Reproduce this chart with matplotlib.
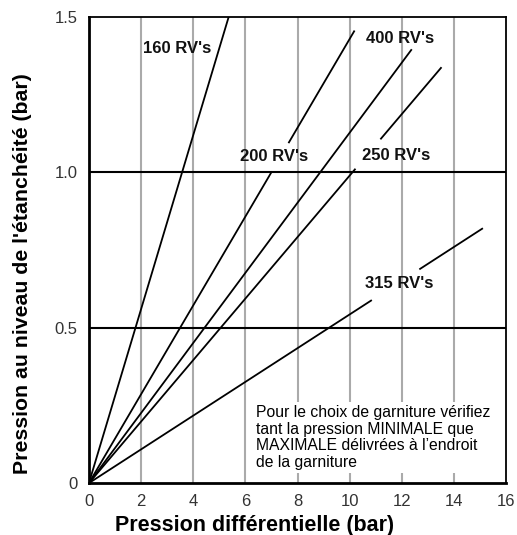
import matplotlib.pyplot as plt
import numpy as np

plt.rcParams['font.family'] = ['Liberation Sans', 'DejaVu Sans']

# pump speeds and slope of seal pressure vs differential pressure
labels = ["160 RV's", "200 RV's", "400 RV's", "250 RV's", "315 RV's"]
slopes = [0.28, 0.143, 0.1128, 0.099, 0.0543]
# line segments (x ranges); a gap leaves room for the label
segments = [
    [(0, 5.36)],
    [(0, 7.0), (7.67, 10.17)],
    [(0, 12.36)],
    [(0, 10.2), (11.2, 13.5)],
    [(0, 10.82), (12.7, 15.08)],
]
label_pos = [(3.4, 1.40), (7.1, 1.05), (11.92, 1.43), (11.8, 1.055), (11.9, 0.644)]

xticks = [0, 2, 4, 6, 8, 10, 12, 14, 16]
yticks = [0, 0.5, 1.0, 1.5]
ytick_labels = ['0', '0.5', '1.0', '1.5']

note = ("Pour le choix de garniture vérifiez\n"
        "tant la pression MINIMALE que\n"
        "MAXIMALE délivrées à l’endroit\n"
        "de la garniture")

fig = plt.figure(figsize=(5.17, 5.35), dpi=100)
ax = fig.add_axes([0.172, 0.097, 0.807, 0.871])
ax.set_xlim(0, 16)
ax.set_ylim(0, 1.5)

for x in xticks[1:-1]:
    ax.axvline(x, color='#aaaaaa', lw=1.5, zorder=1)
for y in [0.5, 1.0]:
    ax.axhline(y, color='black', lw=1.5, zorder=2)

for k, segs, (lx, ly), lab in zip(slopes, segments, label_pos, labels):
    for x0, x1 in segs:
        xs = np.array([x0, x1])
        ax.plot(xs, k * xs, color='black', lw=1.3, zorder=3)
    ax.text(lx, ly, lab, ha='center', va='center', fontsize=12,
            fontweight='bold', color='#111111', zorder=4)

ax.text(6.4, 0.252, note, ha='left', va='top', fontsize=11.3,
        linespacing=1.15, color='black', zorder=5,
        bbox=dict(facecolor='white', edgecolor='none', pad=2))

ax.set_xticks(xticks)
ax.set_yticks(yticks)
ax.set_yticklabels(ytick_labels)
ax.tick_params(length=0, labelsize=12, labelcolor='#333333', pad=8)

for side in ['left', 'bottom']:
    ax.spines[side].set_linewidth(2)
for side in ['top', 'right']:
    ax.spines[side].set_linewidth(1.3)

ax.set_xlabel('Pression différentielle (bar)', fontsize=15.5, fontweight='bold')
ax.set_ylabel("Pression au niveau de l'étanchéité (bar)", fontsize=15.3,
              fontweight='bold')
ax.xaxis.set_label_coords(0.398, -0.069)
ax.yaxis.set_label_coords(-0.137, 0.449)

fig.savefig('out.png', dpi=100)
